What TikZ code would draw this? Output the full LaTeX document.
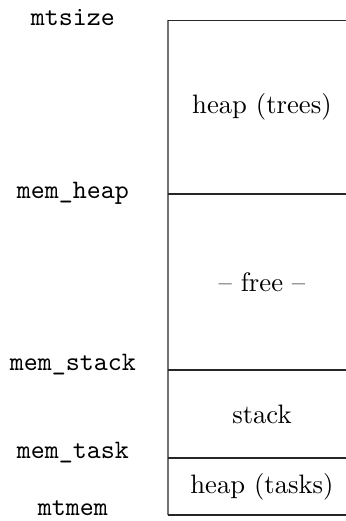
\documentclass[tikz,border=0pt]{standalone}
\usetikzlibrary{calc}

\begin{document}
\begin{tikzpicture}[
                    addr/.style={font=\ttfamily, anchor=base, inner sep=0pt},
                    region/.style={align=center, inner sep=0pt},
                    boundary/.style={draw=black!85},
                    axis/.style={draw=black!55},
                ]
                \useasboundingbox (0,0) rectangle (4.56,6.867);

                % region boundaries, top to bottom
                \coordinate (size)  at (2.214,6.600);
                \coordinate (heap)  at (2.214,4.310);
                \coordinate (stack) at (2.214,1.990);
                \coordinate (task)  at (2.214,0.830);
                \coordinate (mem)   at (2.214,0.079);

                \draw[axis] (size) -- (mem);
                \foreach \b in {size,heap,stack,task,mem}
                    \draw[boundary] (\b) -- (\b -| 4.56,0);

                % address names on the left
                \node[addr] (lsize)  at (0.962,6.537) {mtsize};
                \node[addr] (lheap)  at (0.962,4.257) {mem\_heap};
                \node[addr] (lstack) at (0.962,1.990) {mem\_stack};
                \node[addr] (ltask)  at (0.962,0.830) {mem\_task};
                \node[addr] (lmem)   at (0.962,0.079) {mtmem};

                % contents of each region
                \node[region] (trees) at ($(size)!0.5!(heap) + (1.239,0)$) {heap (trees)};
                \node[region] (free)  at ($(heap)!0.5!(stack) + (1.239,0)$) {-- free --};
                \node[region] (stk)   at ($(stack)!0.5!(task) + (1.239,0)$) {stack};
                \node[region] (tasks) at ($(task)!0.5!(mem) + (1.239,0)$) {heap (tasks)};
            \end{tikzpicture}
\end{document}
